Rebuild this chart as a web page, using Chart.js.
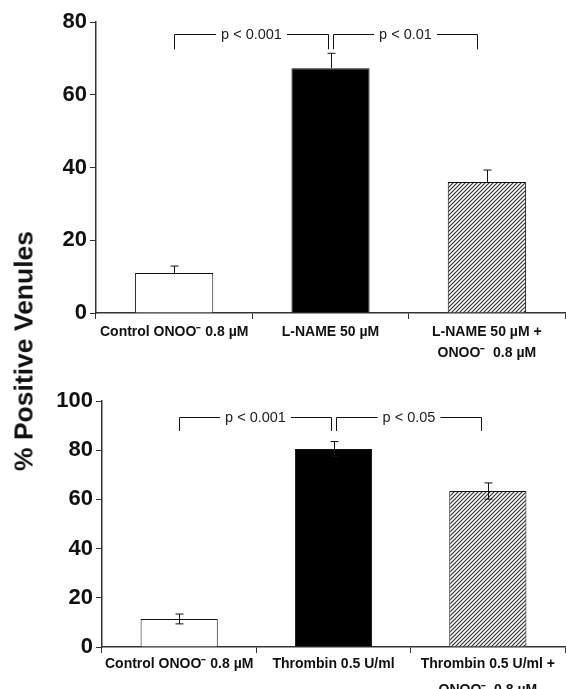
<!DOCTYPE html>
<html>
<head>
<meta charset="utf-8">
<script src="https://cdn.jsdelivr.net/npm/chart.js@4.4.1/dist/chart.umd.min.js"></script>
<style>
  body { margin: 0; background: #fff; }
  #wrap { position: relative; width: 566px; height: 689px; overflow: hidden; }
  canvas { position: absolute; left: 0; }
  #ytitle {
    position: absolute; left: 24px; top: 351px;
    transform: translate(-50%, -50%) rotate(-90deg);
    font: bold 26.5px "Liberation Sans", Arial, sans-serif;
    white-space: nowrap; color: #111;
  }
</style>
</head>
<body>
<div id="wrap">
  <canvas id="chartTop" width="566" height="362" style="top:0"></canvas>
  <canvas id="chartBottom" width="566" height="327" style="top:362px"></canvas>
  <div id="ytitle">% Positive Venules</div>
</div>
<script>
// Panel A: L-NAME
var topLabels = [['Control ONOO\u207B 0.8 \u00B5M'], ['L-NAME 50 \u00B5M'], ['L-NAME 50 \u00B5M +', 'ONOO\u207B  0.8 \u00B5M']];
var topValues = [11, 67.3, 36];
var topErrors = [1.9, 4.1, 3.3];
var topPvalues = ['p < 0.001', 'p < 0.01'];

// Panel B: Thrombin
var bottomLabels = [['Control ONOO\u207B 0.8 \u00B5M'], ['Thrombin 0.5 U/ml'], ['Thrombin 0.5 U/ml +', 'ONOO\u207B  0.8 \u00B5M']];
var bottomValues = [11.4, 80.5, 63.4];
var bottomErrors = [2, 3, 3.3];
var bottomPvalues = ['p < 0.001', 'p < 0.05'];

var FONT = '"Liberation Sans", Arial, sans-serif';

// hatch "////" for the third bar
function makeHatch() {
    var c = document.createElement('canvas');
    c.width = 4; c.height = 4;
    var g = c.getContext('2d');
    g.fillStyle = '#fff';
    g.fillRect(0, 0, 4, 4);
    g.strokeStyle = '#333';
    g.lineWidth = 1.2;
    g.beginPath();
    g.moveTo(0, 4); g.lineTo(4, 0);
    g.moveTo(-1, 1); g.lineTo(1, -1);
    g.moveTo(3, 5); g.lineTo(5, 3);
    g.stroke();
    return g.createPattern(c, 'repeat');
}
var hatch = makeHatch();

var extrasPlugin = {
    id: 'extras',
    afterDatasetsDraw: function(chart, args, opts) {
        var ctx = chart.ctx;
        var x = chart.scales.x, y = chart.scales.y;
        var vals = chart.data.datasets[0].data;
        ctx.save();
        ctx.strokeStyle = '#111';
        ctx.lineWidth = 1;
        // error bars
        opts.errors.forEach(function(e, i) {
            var cx = Math.round(x.getPixelForValue(i)) + 0.5;
            var yt = y.getPixelForValue(vals[i] + e);
            var yb = opts.bothSides ? y.getPixelForValue(vals[i] - e) : y.getPixelForValue(vals[i]);
            ctx.beginPath();
            ctx.moveTo(cx, yb); ctx.lineTo(cx, yt);
            ctx.moveTo(cx - 4, yt); ctx.lineTo(cx + 4, yt);
            if (opts.bothSides) { ctx.moveTo(cx - 4, yb); ctx.lineTo(cx + 4, yb); }
            ctx.stroke();
        });
        // significance brackets
        ctx.font = '14.5px ' + FONT;
        ctx.fillStyle = '#222';
        ctx.textAlign = 'center';
        ctx.textBaseline = 'middle';
        opts.brackets.forEach(function(b) {
            var x1 = Math.round(x.getPixelForValue(b.from)) + 0.5;
            var x2 = Math.round(x.getPixelForValue(b.to)) + 0.5;
            var yTop = Math.round(y.getPixelForValue(opts.bracketY)) + 0.5;
            var yLeg = y.getPixelForValue(opts.legY);
            var mid = (x1 + x2) / 2;
            var w = ctx.measureText(b.text).width / 2 + 5;
            ctx.beginPath();
            ctx.moveTo(x1, yLeg); ctx.lineTo(x1, yTop); ctx.lineTo(mid - w, yTop);
            ctx.moveTo(mid + w, yTop); ctx.lineTo(x2, yTop); ctx.lineTo(x2, yLeg);
            ctx.stroke();
            ctx.fillText(b.text, mid, yTop);
        });
        ctx.restore();
    }
};

function makeChart(id, labels, values, errors, pvals, yMax, yWidth, padTop, xHeight, bothSides, bracketY, legY, rightEnd, lineH, labelPad) {
    return new Chart(document.getElementById(id), {
        type: 'bar',
        data: {
            labels: labels,
            datasets: [{
                data: values,
                backgroundColor: ['#fff', '#000', hatch],
                borderColor: '#111',
                borderWidth: 1,
                borderSkipped: 'bottom',
                barPercentage: 0.5,
                categoryPercentage: 1
            }]
        },
        options: {
            responsive: false,
            animation: false,
            layout: { padding: { top: padTop, right: 1, left: 0, bottom: 0 } },
            plugins: {
                legend: { display: false },
                tooltip: { enabled: false },
                extras: {
                    errors: errors,
                    bothSides: bothSides,
                    bracketY: bracketY,
                    legY: legY,
                    brackets: [
                        { from: 0, to: 0.985, text: pvals[0] },
                        { from: 1.015, to: rightEnd, text: pvals[1] }
                    ]
                }
            },
            scales: {
                x: {
                    offset: true,
                    grid: { offset: true, drawOnChartArea: false, tickLength: 6, color: '#333' },
                    border: { color: '#333', width: 1.5 },
                    ticks: {
                        color: '#111',
                        font: { family: FONT, size: 14, weight: 'bold', lineHeight: lineH },
                        padding: labelPad,
                        maxRotation: 0,
                        autoSkip: false
                    },
                    afterFit: function(s) { s.height = xHeight; }
                },
                y: {
                    min: 0,
                    max: yMax,
                    ticks: {
                        stepSize: 20,
                        color: '#111',
                        font: { family: FONT, size: 22, weight: 'bold' },
                        padding: 3
                    },
                    grid: { drawOnChartArea: false, tickLength: 6, color: '#333' },
                    border: { color: '#333', width: 1.5 },
                    afterFit: function(s) { s.width = yWidth; }
                }
            }
        },
        plugins: [extrasPlugin]
    });
}

makeChart('chartTop', topLabels, topValues, topErrors, topPvalues, 80, 96, 22, 49, false, 76.6, 72.5, 1.94, 1.55, 2);
makeChart('chartBottom', bottomLabels, bottomValues, bottomErrors, bottomPvalues, 100, 102, 39, 42, true, 93.5, 87.8, 1.955, 1.8, -1);
</script>
</body>
</html>
